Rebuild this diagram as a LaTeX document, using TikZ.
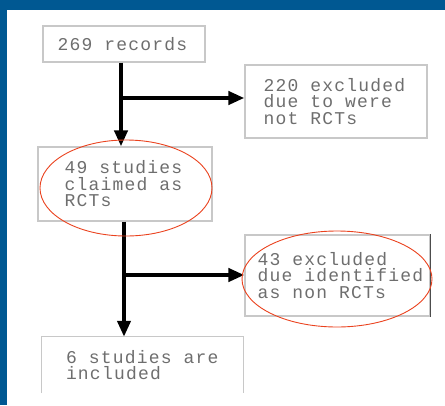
\documentclass[tikz,border=0pt]{standalone}
\usepackage{fontspec}
\usepackage{tikz}
\usetikzlibrary{arrows.meta}
\newfontfamily\flowfont[LetterSpace=6.7]{Liberation Mono}
\definecolor{frameblue}{RGB}{0,88,146}
\definecolor{boxgray}{RGB}{200,200,200}
\definecolor{textgray}{RGB}{110,110,110}
\definecolor{markred}{RGB}{234,66,30}

\tikzset{
  box/.style={draw=boxgray, line width=1.2pt, inner sep=0pt},
  boxline/.style={draw=boxgray, line width=1.2pt},
  txt/.style={anchor=west, inner sep=0pt, align=left, text=textgray,
    font=\flowfont\fontsize{18}{16.5}\selectfont},
  arr/.style={line width=4pt, -{Triangle[length=16pt,width=13pt]}},
  ring/.style={draw=markred, line width=0.9pt}
}

\begin{document}
\begin{tikzpicture}[x=1pt,y=-1pt]
		\useasboundingbox (0,0) rectangle (445,405);
		% frame
		\fill[frameblue] (0,0) rectangle (445,10);
		\fill[frameblue] (0,0) rectangle (7,405);
		% boxes
		\node[box, minimum width=162pt, minimum height=36pt] (rec) at (124,44) {};
		\node[txt] (rectxt) at ([xshift=15pt]rec.west) {269 records};
		\node[box, minimum width=182pt, minimum height=73pt] (excone) at (336,101.5) {};
		\node[txt] (exconetxt) at ([xshift=19pt]excone.west) {220 excluded\\due to were\\not RCTs};
		\node[box, minimum width=174pt, minimum height=74pt] (rct) at (125,184) {};
		\node[txt] (rcttxt) at ([xshift=27pt]rct.west) {49 studies\\claimed as\\RCTs};
		\node[box, minimum width=185pt, minimum height=81pt] (exctwo) at (337.5,275.5) {};
		\node[txt] (exctwotxt) at ([xshift=13pt]exctwo.west) {43 excluded\\due identified\\as non RCTs};
		\draw[line width=1.5pt, black!70] (exctwo.north east) -- (exctwo.south east);
		\node[minimum width=201pt, minimum height=56pt, inner sep=0pt] (inc) at (142.5,365) {};
		\draw[boxline] (inc.south west) -- (inc.north west) -- (inc.north east) -- (inc.south east);
		\node[txt] (inctxt) at ([xshift=24pt]inc.west) {6 studies are\\included};
		% arrows
		\coordinate (jone) at (121,98);
		\coordinate (jtwo) at (124,275);
		\draw[arr] (jone |- rec.south) -- (jone |- rct.north);
		\draw[arr] (jone) -- (jone -| excone.west);
		\draw[arr] (jtwo |- rct.south) -- (jtwo |- inc.north);
		\draw[arr] (jtwo) -- (jtwo -| exctwo.west);
		% red marks
		\draw[ring] (126,188) ellipse [x radius=86, y radius=48];
		\draw[ring] (337,279) ellipse [x radius=95, y radius=48];
\end{tikzpicture}
\end{document}
